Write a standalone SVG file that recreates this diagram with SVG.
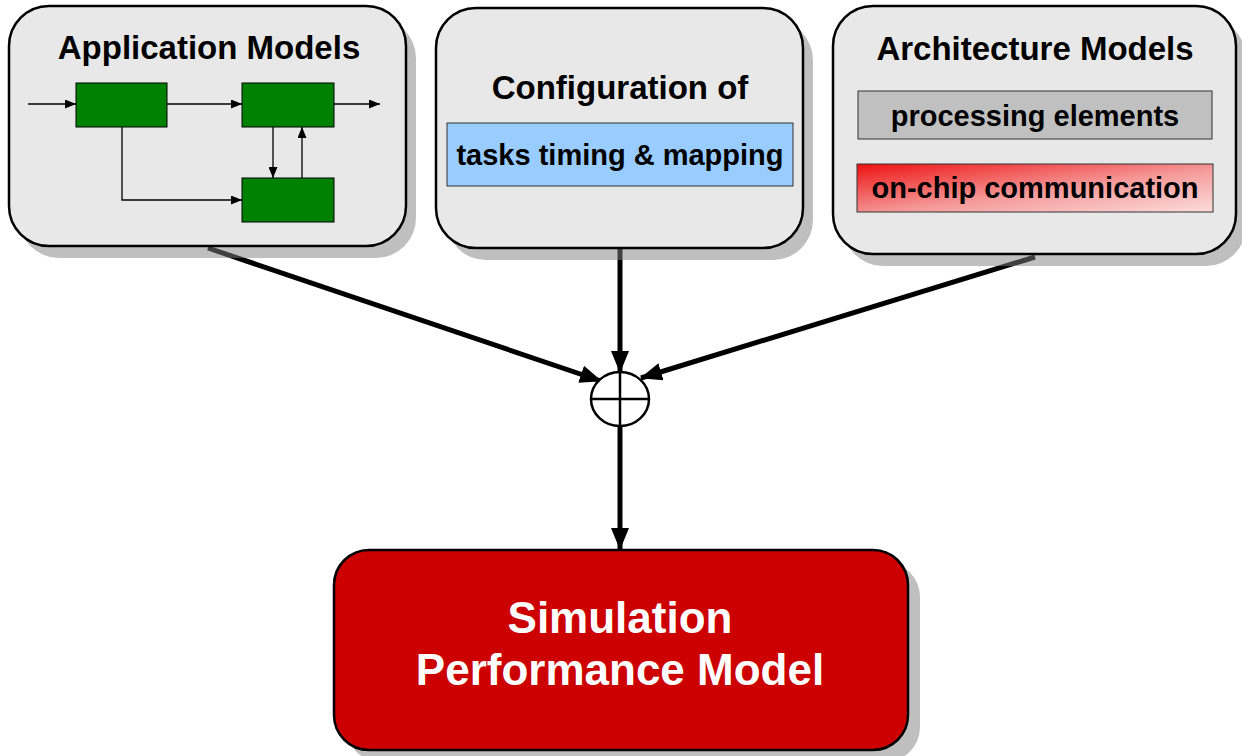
<svg xmlns="http://www.w3.org/2000/svg" width="1242" height="756" viewBox="0 0 1242 756">
  <defs>
    <marker id="headBig" markerUnits="userSpaceOnUse" markerWidth="22" markerHeight="18" refX="21" refY="9" orient="auto">
      <path d="M0,0 L22,9 L0,18 z" fill="#000"/>
    </marker>
    <marker id="headSmall" markerUnits="userSpaceOnUse" markerWidth="11" markerHeight="9" refX="11" refY="4.5" orient="auto">
      <path d="M0,0 L11,4.5 L0,9 z" fill="#000"/>
    </marker>
    <linearGradient id="redFade" x1="0" y1="0" x2="1" y2="1">
      <stop offset="0" stop-color="#ee1111"/>
      <stop offset="0.55" stop-color="#f59a9a"/>
      <stop offset="1" stop-color="#fcdcdc"/>
    </linearGradient>
    <style>
      .shadow { fill: #808080; opacity: 0.5; }
      .panel { fill: #e8e8e8; stroke: #000; stroke-width: 2.5; }
      .title { font-family: "Liberation Sans", Arial, sans-serif; font-weight: bold; font-size: 33px; fill: #000; text-anchor: middle; }
      .label { font-family: "Liberation Sans", Arial, sans-serif; font-weight: bold; font-size: 29px; fill: #000; text-anchor: middle; }
      .big { font-family: "Liberation Sans", Arial, sans-serif; font-weight: bold; font-size: 44px; fill: #fff; text-anchor: middle; }
      .task { fill: #008000; stroke: #000; stroke-width: 1; }
      .flow { fill: none; stroke: #000; stroke-width: 1.3; marker-end: url(#headSmall); }
      .conn { fill: none; stroke: #000; stroke-width: 5; marker-end: url(#headBig); }
    </style>
  </defs>

  <!-- connectors (drawn first so panel shadows tint them) -->
  <g id="connectors">
    <line class="conn" x1="208" y1="248" x2="601" y2="381"/>
    <line class="conn" x1="620" y1="248" x2="620" y2="372"/>
    <line class="conn" x1="1035" y1="257" x2="641" y2="378"/>
    <line class="conn" x1="620" y1="426" x2="620" y2="549"/>
  </g>

  <!-- application models -->
  <g id="application-models">
    <rect class="shadow" x="19" y="18" width="397" height="240" rx="40"/>
    <rect class="panel" x="9" y="6" width="397" height="240" rx="40"/>
    <text class="title" x="209" y="59">Application Models</text>
    <line class="flow" x1="28" y1="104" x2="76" y2="104"/>
    <line class="flow" x1="167" y1="104" x2="242" y2="104"/>
    <line class="flow" x1="334" y1="104" x2="380" y2="104"/>
    <line class="flow" x1="273" y1="127" x2="273" y2="178"/>
    <line class="flow" x1="302" y1="178" x2="302" y2="127"/>
    <polyline class="flow" points="122,127 122,200 242,200"/>
    <rect class="task" x="76" y="83" width="91" height="44"/>
    <rect class="task" x="242" y="83" width="92" height="44"/>
    <rect class="task" x="242" y="178" width="92" height="44"/>
  </g>

  <!-- configuration -->
  <g id="configuration">
    <rect class="shadow" x="446" y="20" width="367" height="240" rx="40"/>
    <rect class="panel" x="436" y="8" width="367" height="240" rx="40"/>
    <text class="title" x="620" y="99">Configuration of</text>
    <rect x="447" y="123" width="346" height="63" fill="#99ccff" stroke="#333" stroke-width="1"/>
    <text class="label" x="620" y="165">tasks timing &amp; mapping</text>
  </g>

  <!-- architecture models -->
  <g id="architecture-models">
    <rect class="shadow" x="843" y="18" width="403" height="248" rx="40"/>
    <rect class="panel" x="833" y="6" width="403" height="248" rx="40"/>
    <text class="title" x="1035" y="60">Architecture Models</text>
    <rect x="858" y="91" width="354" height="48" fill="#c0c0c0" stroke="#333" stroke-width="1"/>
    <text class="label" x="1035" y="126">processing elements</text>
    <rect x="857" y="164" width="356" height="48" fill="url(#redFade)" stroke="#333" stroke-width="1"/>
    <text class="label" x="1035" y="198">on-chip communication</text>
  </g>

  <!-- merge point -->
  <g id="merge">
    <ellipse cx="620" cy="399" rx="29" ry="27" fill="#fff" stroke="#000" stroke-width="2.5"/>
    <line x1="591" y1="399" x2="649" y2="399" stroke="#000" stroke-width="2.5"/>
    <line x1="620" y1="372" x2="620" y2="426" stroke="#000" stroke-width="2.5"/>
  </g>

  <!-- simulation performance model -->
  <g id="simulation-model">
    <rect class="shadow" x="346" y="562" width="574" height="200" rx="35"/>
    <rect x="334" y="550" width="574" height="200" rx="35" fill="#cc0000" stroke="#000" stroke-width="2.5"/>
    <text class="big" x="620" y="633">Simulation</text>
    <text class="big" x="620" y="685">Performance Model</text>
  </g>
</svg>
